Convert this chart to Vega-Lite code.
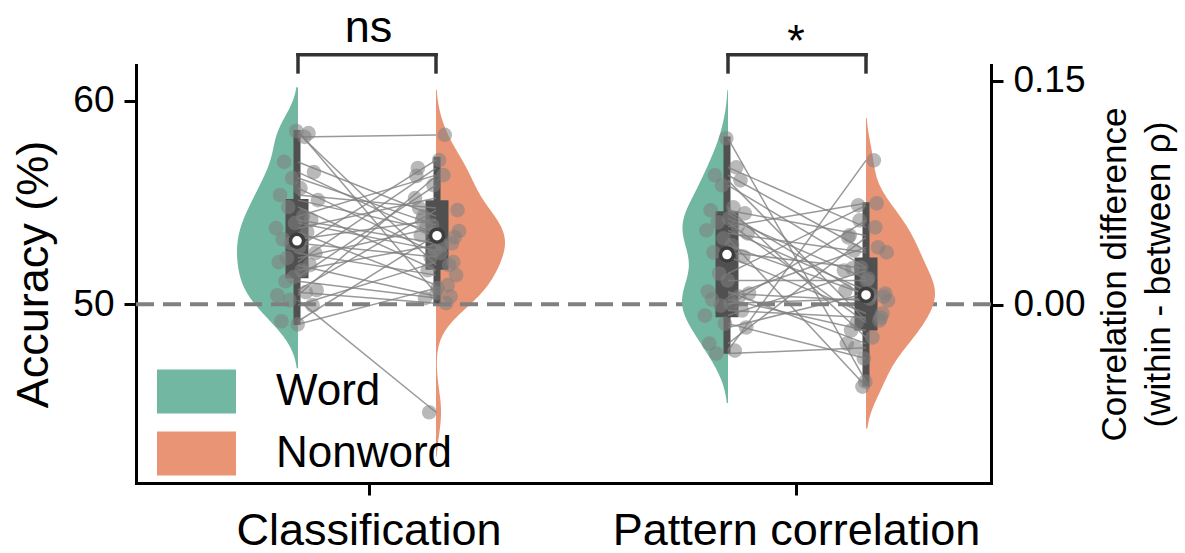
{
  "$schema": "https://vega.github.io/schema/vega-lite/v6.json",
  "width": 855,
  "height": 418,
  "autosize": {"type": "none"},
  "padding": {"left": 136, "top": 65, "right": 194, "bottom": 70},
  "config": {"view": {"stroke": null}, "font": "Liberation Sans"},
  "datasets": {
    "pts": [
      {"cond":"Classification","group":"Word","subj":"s17","val":49.01},{"cond":"Classification","group":"Nonword","subj":"s17","val":50.79},
      {"cond":"Classification","group":"Word","subj":"s05","val":49.16},{"cond":"Classification","group":"Nonword","subj":"s05","val":53.40},
      {"cond":"Classification","group":"Word","subj":"s28","val":49.95},{"cond":"Classification","group":"Nonword","subj":"s28","val":52.07},
      {"cond":"Classification","group":"Word","subj":"s11","val":50.20},{"cond":"Classification","group":"Nonword","subj":"s11","val":44.68},
      {"cond":"Classification","group":"Word","subj":"s02","val":50.44},{"cond":"Classification","group":"Nonword","subj":"s02","val":56.31},
      {"cond":"Classification","group":"Word","subj":"s23","val":50.59},{"cond":"Classification","group":"Nonword","subj":"s23","val":50.05},
      {"cond":"Classification","group":"Word","subj":"s31","val":50.69},{"cond":"Classification","group":"Nonword","subj":"s31","val":54.63},
      {"cond":"Classification","group":"Word","subj":"s08","val":51.13},{"cond":"Classification","group":"Nonword","subj":"s08","val":50.30},
      {"cond":"Classification","group":"Word","subj":"s14","val":51.33},{"cond":"Classification","group":"Nonword","subj":"s14","val":55.86},
      {"cond":"Classification","group":"Word","subj":"s20","val":51.67},{"cond":"Classification","group":"Nonword","subj":"s20","val":52.91},
      {"cond":"Classification","group":"Word","subj":"s26","val":51.92},{"cond":"Classification","group":"Nonword","subj":"s26","val":50.39},
      {"cond":"Classification","group":"Word","subj":"s03","val":52.07},{"cond":"Classification","group":"Nonword","subj":"s03","val":56.70},
      {"cond":"Classification","group":"Word","subj":"s09","val":52.27},{"cond":"Classification","group":"Nonword","subj":"s09","val":53.79},
      {"cond":"Classification","group":"Word","subj":"s30","val":52.51},{"cond":"Classification","group":"Nonword","subj":"s30","val":51.43},
      {"cond":"Classification","group":"Word","subj":"s18","val":52.81},{"cond":"Classification","group":"Nonword","subj":"s18","val":57.09},
      {"cond":"Classification","group":"Word","subj":"s12","val":53.00},{"cond":"Classification","group":"Nonword","subj":"s12","val":52.32},
      {"cond":"Classification","group":"Word","subj":"s06","val":53.20},{"cond":"Classification","group":"Nonword","subj":"s06","val":54.14},
      {"cond":"Classification","group":"Word","subj":"s24","val":53.55},{"cond":"Classification","group":"Nonword","subj":"s24","val":50.94},
      {"cond":"Classification","group":"Word","subj":"s01","val":53.74},{"cond":"Classification","group":"Nonword","subj":"s01","val":55.22},
      {"cond":"Classification","group":"Word","subj":"s15","val":53.99},{"cond":"Classification","group":"Nonword","subj":"s15","val":52.66},
      {"cond":"Classification","group":"Word","subj":"s27","val":54.14},{"cond":"Classification","group":"Nonword","subj":"s27","val":53.00},
      {"cond":"Classification","group":"Word","subj":"s21","val":54.33},{"cond":"Classification","group":"Nonword","subj":"s21","val":56.35},
      {"cond":"Classification","group":"Word","subj":"s10","val":54.78},{"cond":"Classification","group":"Nonword","subj":"s10","val":51.67},
      {"cond":"Classification","group":"Word","subj":"s32","val":55.12},{"cond":"Classification","group":"Nonword","subj":"s32","val":53.60},
      {"cond":"Classification","group":"Word","subj":"s04","val":55.37},{"cond":"Classification","group":"Nonword","subj":"s04","val":54.73},
      {"cond":"Classification","group":"Word","subj":"s19","val":55.71},{"cond":"Classification","group":"Nonword","subj":"s19","val":52.51},
      {"cond":"Classification","group":"Word","subj":"s13","val":56.21},{"cond":"Classification","group":"Nonword","subj":"s13","val":53.89},
      {"cond":"Classification","group":"Word","subj":"s29","val":56.50},{"cond":"Classification","group":"Nonword","subj":"s29","val":53.30},
      {"cond":"Classification","group":"Word","subj":"s07","val":57.00},{"cond":"Classification","group":"Nonword","subj":"s07","val":54.33},
      {"cond":"Classification","group":"Word","subj":"s22","val":58.23},{"cond":"Classification","group":"Nonword","subj":"s22","val":58.33},
      {"cond":"Classification","group":"Word","subj":"s25","val":58.42},{"cond":"Classification","group":"Nonword","subj":"s25","val":51.92},
      {"cond":"Classification","group":"Word","subj":"s16","val":58.52},{"cond":"Classification","group":"Nonword","subj":"s16","val":50.54},
      {"cond":"Pattern correlation","group":"Word","subj":"p09","val":-0.0329},{"cond":"Pattern correlation","group":"Nonword","subj":"p09","val":-0.0289},
      {"cond":"Pattern correlation","group":"Word","subj":"p22","val":-0.0309},{"cond":"Pattern correlation","group":"Nonword","subj":"p22","val":0.0966},
      {"cond":"Pattern correlation","group":"Word","subj":"p04","val":-0.0262},{"cond":"Pattern correlation","group":"Nonword","subj":"p04","val":0.0450},
      {"cond":"Pattern correlation","group":"Word","subj":"p30","val":-0.0154},{"cond":"Pattern correlation","group":"Nonword","subj":"p30","val":0.0074},
      {"cond":"Pattern correlation","group":"Word","subj":"p15","val":-0.0128},{"cond":"Pattern correlation","group":"Nonword","subj":"p15","val":-0.0362},
      {"cond":"Pattern correlation","group":"Word","subj":"p01","val":-0.0074},{"cond":"Pattern correlation","group":"Nonword","subj":"p01","val":0.0228},
      {"cond":"Pattern correlation","group":"Word","subj":"p27","val":-0.0040},{"cond":"Pattern correlation","group":"Nonword","subj":"p27","val":-0.0087},
      {"cond":"Pattern correlation","group":"Word","subj":"p12","val":-0.0007},{"cond":"Pattern correlation","group":"Nonword","subj":"p12","val":0.0564},
      {"cond":"Pattern correlation","group":"Word","subj":"p19","val":0.0007},{"cond":"Pattern correlation","group":"Nonword","subj":"p19","val":0.0040},
      {"cond":"Pattern correlation","group":"Word","subj":"p06","val":0.0034},{"cond":"Pattern correlation","group":"Nonword","subj":"p06","val":-0.0174},
      {"cond":"Pattern correlation","group":"Word","subj":"p25","val":0.0054},{"cond":"Pattern correlation","group":"Nonword","subj":"p25","val":0.0383},
      {"cond":"Pattern correlation","group":"Word","subj":"p32","val":0.0074},{"cond":"Pattern correlation","group":"Nonword","subj":"p32","val":0.0027},
      {"cond":"Pattern correlation","group":"Word","subj":"p03","val":0.0087},{"cond":"Pattern correlation","group":"Nonword","subj":"p03","val":-0.0262},
      {"cond":"Pattern correlation","group":"Word","subj":"p17","val":0.0161},{"cond":"Pattern correlation","group":"Nonword","subj":"p17","val":0.0161},
      {"cond":"Pattern correlation","group":"Word","subj":"p11","val":0.0208},{"cond":"Pattern correlation","group":"Nonword","subj":"p11","val":0.0664},
      {"cond":"Pattern correlation","group":"Word","subj":"p28","val":0.0322},{"cond":"Pattern correlation","group":"Nonword","subj":"p28","val":-0.0060},
      {"cond":"Pattern correlation","group":"Word","subj":"p07","val":0.0349},{"cond":"Pattern correlation","group":"Nonword","subj":"p07","val":0.0242},
      {"cond":"Pattern correlation","group":"Word","subj":"p20","val":0.0396},{"cond":"Pattern correlation","group":"Nonword","subj":"p20","val":0.0067},
      {"cond":"Pattern correlation","group":"Word","subj":"p14","val":0.0443},{"cond":"Pattern correlation","group":"Nonword","subj":"p14","val":-0.0550},
      {"cond":"Pattern correlation","group":"Word","subj":"p31","val":0.0477},{"cond":"Pattern correlation","group":"Nonword","subj":"p31","val":0.0349},
      {"cond":"Pattern correlation","group":"Word","subj":"p02","val":0.0497},{"cond":"Pattern correlation","group":"Nonword","subj":"p02","val":0.0094},
      {"cond":"Pattern correlation","group":"Word","subj":"p24","val":0.0523},{"cond":"Pattern correlation","group":"Nonword","subj":"p24","val":0.0678},
      {"cond":"Pattern correlation","group":"Word","subj":"p10","val":0.0550},{"cond":"Pattern correlation","group":"Nonword","subj":"p10","val":-0.0121},
      {"cond":"Pattern correlation","group":"Word","subj":"p18","val":0.0577},{"cond":"Pattern correlation","group":"Nonword","subj":"p18","val":0.0174},
      {"cond":"Pattern correlation","group":"Word","subj":"p29","val":0.0611},{"cond":"Pattern correlation","group":"Nonword","subj":"p29","val":0.0054},
      {"cond":"Pattern correlation","group":"Word","subj":"p05","val":0.0631},{"cond":"Pattern correlation","group":"Nonword","subj":"p05","val":0.0463},
      {"cond":"Pattern correlation","group":"Word","subj":"p21","val":0.0651},{"cond":"Pattern correlation","group":"Nonword","subj":"p21","val":-0.0221},
      {"cond":"Pattern correlation","group":"Word","subj":"p13","val":0.0799},{"cond":"Pattern correlation","group":"Nonword","subj":"p13","val":0.0248},
      {"cond":"Pattern correlation","group":"Word","subj":"p26","val":0.0832},{"cond":"Pattern correlation","group":"Nonword","subj":"p26","val":-0.0107},
      {"cond":"Pattern correlation","group":"Word","subj":"p08","val":0.0866},{"cond":"Pattern correlation","group":"Nonword","subj":"p08","val":0.0362},
      {"cond":"Pattern correlation","group":"Word","subj":"p23","val":0.0919},{"cond":"Pattern correlation","group":"Nonword","subj":"p23","val":0.0517},
      {"cond":"Pattern correlation","group":"Word","subj":"p16","val":0.1114},{"cond":"Pattern correlation","group":"Nonword","subj":"p16","val":-0.0517}
    ],
    "box": [
      {"cond":"Classification","group":"Word","lo":48.97,"q1":51.28,"med":53.12,"q3":55.17,"hi":58.57},
      {"cond":"Classification","group":"Nonword","lo":50.03,"q1":51.70,"med":53.37,"q3":55.12,"hi":57.26},
      {"cond":"Pattern correlation","group":"Word","lo":-0.0330,"q1":-0.0085,"med":0.0335,"q3":0.0625,"hi":0.1126},
      {"cond":"Pattern correlation","group":"Nonword","lo":-0.0550,"q1":-0.0174,"med":0.0064,"q3":0.0315,"hi":0.0686}
    ]
  },
  "layer": [
    {
      "data": {"name": "pts"},
      "transform": [
        {"filter": "datum.cond === 'Classification' && datum.group === 'Word'"},
        {"density": "val", "groupby": ["group"], "bandwidth": 1.05, "extent": [46.85, 60.68], "steps": 200}
      ],
      "mark": {"type": "area", "orient": "horizontal", "opacity": 1},
      "encoding": {
        "y": {"field": "value", "type": "quantitative", "scale": {"domain": [41.2, 61.77], "nice": false, "zero": false}, "axis": null},
        "x": {"field": "density", "type": "quantitative", "stack": null, "scale": {"range": [162, 101], "zero": true, "nice": false}, "axis": null},
        "color": {"field": "group", "type": "nominal", "title": null, "scale": {"domain": ["Word", "Nonword"], "range": ["#71b7a1", "#e99575"]},
          "legend": {"orient": "none", "legendX": 21, "legendY": 287, "symbolType": "M-1,-0.557L1,-0.557L1,0.557L-1,0.557Z", "symbolSize": 6241, "labelFontSize": 44, "labelLimit": 0, "labelOffset": 40, "rowPadding": -3, "symbolStrokeWidth": 0, "symbolOpacity": 1, "labelColor": "black", "padding": 0}}
      }
    },
    {
      "data": {"name": "pts"},
      "transform": [
        {"filter": "datum.cond === 'Classification' && datum.group === 'Nonword'"},
        {"density": "val", "groupby": ["group"], "bandwidth": 1.12, "extent": [42.5, 60.55], "steps": 200}
      ],
      "mark": {"type": "area", "orient": "horizontal", "opacity": 1},
      "encoding": {
        "y": {"field": "value", "type": "quantitative", "scale": {"domain": [41.2, 61.77], "nice": false, "zero": false}, "axis": null},
        "x": {"field": "density", "type": "quantitative", "stack": null, "scale": {"range": [300, 369], "zero": true, "nice": false}, "axis": null},
        "color": {"field": "group", "type": "nominal", "title": null, "scale": {"domain": ["Word", "Nonword"], "range": ["#71b7a1", "#e99575"]},
          "legend": {"orient": "none", "legendX": 21, "legendY": 287, "symbolType": "M-1,-0.557L1,-0.557L1,0.557L-1,0.557Z", "symbolSize": 6241, "labelFontSize": 44, "labelLimit": 0, "labelOffset": 40, "rowPadding": -3, "symbolStrokeWidth": 0, "symbolOpacity": 1, "labelColor": "black", "padding": 0}}
      }
    },
    {
      "data": {"values": [{}]},
      "mark": {"type": "rule", "color": "#808080", "strokeWidth": 4, "strokeDash": [18, 9]},
      "encoding": {
        "x": {"datum": -0.5439, "type": "quantitative", "scale": {"domain": [-0.5439, 1.4561], "nice": false, "zero": false},
          "axis": {"values": [0, 1], "labelExpr": "datum.value == 0 ? 'Classification' : 'Pattern correlation'", "title": null, "grid": false, "labelFontSize": 45, "labelLimit": 0, "labelOverlap": false, "labelColor": "black", "labelPadding": 13, "labelFlush": false, "tickSize": 12, "tickWidth": 3, "tickColor": "black", "domainWidth": 3, "domainColor": "black", "domainCap": "square"}},
        "x2": {"datum": 1.4561},
        "y": {"datum": 50, "type": "quantitative", "scale": {"domain": [41.2, 61.77], "nice": false, "zero": false},
          "axis": {"orient": "left", "values": [50, 60], "title": "Accuracy (%)", "titleFontSize": 45, "titleFontWeight": "normal", "titleColor": "black", "titlePadding": 16, "grid": false, "labelFontSize": 37, "labelColor": "black", "labelPadding": 10, "tickSize": 12, "tickWidth": 3, "tickColor": "black", "domainWidth": 3, "domainColor": "black", "domainCap": "square"}}
      }
    },
    {
      "data": {"name": "pts"},
      "transform": [
        {"filter": "datum.cond === 'Pattern correlation' && datum.group === 'Word'"},
        {"density": "val", "groupby": ["group"], "bandwidth": 0.0163, "extent": [-0.066, 0.1437], "steps": 200}
      ],
      "mark": {"type": "area", "orient": "horizontal", "opacity": 1},
      "encoding": {
        "y": {"field": "value", "type": "quantitative", "scale": {"domain": [-0.1196, 0.1605], "nice": false, "zero": false}, "axis": null},
        "x": {"field": "density", "type": "quantitative", "stack": null, "scale": {"range": [592, 546], "zero": true, "nice": false}, "axis": null},
        "color": {"field": "group", "type": "nominal", "title": null, "scale": {"domain": ["Word", "Nonword"], "range": ["#71b7a1", "#e99575"]},
          "legend": {"orient": "none", "legendX": 21, "legendY": 287, "symbolType": "M-1,-0.557L1,-0.557L1,0.557L-1,0.557Z", "symbolSize": 6241, "labelFontSize": 44, "labelLimit": 0, "labelOffset": 40, "rowPadding": -3, "symbolStrokeWidth": 0, "symbolOpacity": 1, "labelColor": "black", "padding": 0}}
      }
    },
    {
      "data": {"name": "pts"},
      "transform": [
        {"filter": "datum.cond === 'Pattern correlation' && datum.group === 'Nonword'"},
        {"density": "val", "groupby": ["group"], "bandwidth": 0.0142, "extent": [-0.083, 0.1250], "steps": 200}
      ],
      "mark": {"type": "area", "orient": "horizontal", "opacity": 1},
      "encoding": {
        "y": {"field": "value", "type": "quantitative", "scale": {"domain": [-0.1196, 0.1605], "nice": false, "zero": false}, "axis": null},
        "x": {"field": "density", "type": "quantitative", "stack": null, "scale": {"range": [730, 799], "zero": true, "nice": false}, "axis": null},
        "color": {"field": "group", "type": "nominal", "title": null, "scale": {"domain": ["Word", "Nonword"], "range": ["#71b7a1", "#e99575"]},
          "legend": {"orient": "none", "legendX": 21, "legendY": 287, "symbolType": "M-1,-0.557L1,-0.557L1,0.557L-1,0.557Z", "symbolSize": 6241, "labelFontSize": 44, "labelLimit": 0, "labelOffset": 40, "rowPadding": -3, "symbolStrokeWidth": 0, "symbolOpacity": 1, "labelColor": "black", "padding": 0}}
      }
    },
    {
      "data": {"name": "box"},
      "transform": [{"filter": "datum.cond === 'Classification'"}],
      "mark": {"type": "rule", "color": "#505050", "strokeWidth": 7},
      "encoding": {
        "x": {"field": "group", "type": "nominal", "scale": {"type": "point", "domain": ["Word", "Nonword"], "range": [161, 301], "padding": 0}, "axis": null},
        "y": {"field": "lo", "type": "quantitative", "scale": {"domain": [41.2, 61.77], "nice": false, "zero": false}, "axis": null},
        "y2": {"field": "hi"}
      }
    },
    {
      "data": {"name": "box"},
      "transform": [{"filter": "datum.cond === 'Classification'"}],
      "mark": {"type": "bar", "color": "#505050", "size": 23},
      "encoding": {
        "x": {"field": "group", "type": "nominal", "scale": {"type": "point", "domain": ["Word", "Nonword"], "range": [161, 301], "padding": 0}, "axis": null},
        "y": {"field": "q1", "type": "quantitative", "scale": {"domain": [41.2, 61.77], "nice": false, "zero": false}, "axis": null},
        "y2": {"field": "q3"}
      }
    },
    {
      "data": {"name": "box"},
      "transform": [{"filter": "datum.cond === 'Pattern correlation'"}],
      "mark": {"type": "rule", "color": "#505050", "strokeWidth": 7},
      "encoding": {
        "x": {"field": "group", "type": "nominal", "scale": {"type": "point", "domain": ["Word", "Nonword"], "range": [591, 730], "padding": 0}, "axis": null},
        "y": {"field": "lo", "type": "quantitative", "scale": {"domain": [-0.1196, 0.1605], "nice": false, "zero": false}, "axis": null},
        "y2": {"field": "hi"}
      }
    },
    {
      "data": {"name": "box"},
      "transform": [{"filter": "datum.cond === 'Pattern correlation'"}],
      "mark": {"type": "bar", "color": "#505050", "size": 23},
      "encoding": {
        "x": {"field": "group", "type": "nominal", "scale": {"type": "point", "domain": ["Word", "Nonword"], "range": [591, 730], "padding": 0}, "axis": null},
        "y": {"field": "q1", "type": "quantitative", "scale": {"domain": [-0.1196, 0.1605], "nice": false, "zero": false}, "axis": null},
        "y2": {"field": "q3"}
      }
    },
    {
      "data": {"name": "pts"},
      "transform": [{"filter": "datum.cond === 'Classification' && datum.group === 'Word'"}],
      "mark": {"type": "circle", "color": "#808080", "opacity": 0.55, "size": 215},
      "encoding": {
        "x": {"field": "subj", "type": "nominal", "scale": {"type": "point", "range": [140, 182], "padding": 0}, "axis": null},
        "y": {"field": "val", "type": "quantitative", "scale": {"domain": [41.2, 61.77], "nice": false, "zero": false}, "axis": null}
      }
    },
    {
      "data": {"name": "pts"},
      "transform": [{"filter": "datum.cond === 'Classification' && datum.group === 'Nonword'"}],
      "mark": {"type": "circle", "color": "#808080", "opacity": 0.55, "size": 215},
      "encoding": {
        "x": {"field": "subj", "type": "nominal", "scale": {"type": "point", "range": [279, 323], "padding": 0}, "axis": null},
        "y": {"field": "val", "type": "quantitative", "scale": {"domain": [41.2, 61.77], "nice": false, "zero": false}, "axis": null}
      }
    },
    {
      "data": {"name": "pts"},
      "transform": [{"filter": "datum.cond === 'Pattern correlation' && datum.group === 'Word'"}],
      "mark": {"type": "circle", "color": "#808080", "opacity": 0.55, "size": 215},
      "encoding": {
        "x": {"field": "subj", "type": "nominal", "scale": {"type": "point", "range": [569, 613], "padding": 0}, "axis": null},
        "y": {"field": "val", "type": "quantitative", "scale": {"domain": [-0.1196, 0.1605], "nice": false, "zero": false},
          "axis": {"orient": "right", "values": [0, 0.15], "format": ".2f", "title": ["Correlation difference", "(within - between ρ)"], "titleAngle": 270, "titleFontSize": 35, "titleLineHeight": 44, "titleFontWeight": "normal", "titleColor": "black", "titlePadding": 3, "grid": false, "labelFontSize": 37, "labelColor": "black", "labelPadding": 10, "tickSize": 12, "tickWidth": 3, "tickColor": "black", "domainWidth": 3, "domainColor": "black", "domainCap": "square"}}
      }
    },
    {
      "data": {"name": "pts"},
      "transform": [{"filter": "datum.cond === 'Pattern correlation' && datum.group === 'Nonword'"}],
      "mark": {"type": "circle", "color": "#808080", "opacity": 0.55, "size": 215},
      "encoding": {
        "x": {"field": "subj", "type": "nominal", "scale": {"type": "point", "range": [708, 752], "padding": 0}, "axis": null},
        "y": {"field": "val", "type": "quantitative", "scale": {"domain": [-0.1196, 0.1605], "nice": false, "zero": false}, "axis": null}
      }
    },
    {
      "data": {"name": "pts"},
      "transform": [{"filter": "datum.cond === 'Classification'"}],
      "mark": {"type": "line", "color": "#7f7f7f", "opacity": 0.8, "strokeWidth": 1.5},
      "encoding": {
        "x": {"field": "group", "type": "nominal", "scale": {"type": "point", "domain": ["Word", "Nonword"], "range": [162, 300], "padding": 0}, "axis": null},
        "y": {"field": "val", "type": "quantitative", "scale": {"domain": [41.2, 61.77], "nice": false, "zero": false}, "axis": null},
        "detail": {"field": "subj", "type": "nominal"}
      }
    },
    {
      "data": {"name": "pts"},
      "transform": [{"filter": "datum.cond === 'Pattern correlation'"}],
      "mark": {"type": "line", "color": "#7f7f7f", "opacity": 0.8, "strokeWidth": 1.5},
      "encoding": {
        "x": {"field": "group", "type": "nominal", "scale": {"type": "point", "domain": ["Word", "Nonword"], "range": [592, 730], "padding": 0}, "axis": null},
        "y": {"field": "val", "type": "quantitative", "scale": {"domain": [-0.1196, 0.1605], "nice": false, "zero": false}, "axis": null},
        "detail": {"field": "subj", "type": "nominal"}
      }
    },
    {
      "data": {"name": "box"},
      "transform": [{"filter": "datum.cond === 'Classification'"}],
      "mark": {"type": "point", "filled": true, "fill": "white", "stroke": "#3d3d3d", "strokeWidth": 3.5, "size": 170, "opacity": 1},
      "encoding": {
        "x": {"field": "group", "type": "nominal", "scale": {"type": "point", "domain": ["Word", "Nonword"], "range": [161, 301], "padding": 0}, "axis": null},
        "y": {"field": "med", "type": "quantitative", "scale": {"domain": [41.2, 61.77], "nice": false, "zero": false}, "axis": null}
      }
    },
    {
      "data": {"name": "box"},
      "transform": [{"filter": "datum.cond === 'Pattern correlation'"}],
      "mark": {"type": "point", "filled": true, "fill": "white", "stroke": "#3d3d3d", "strokeWidth": 3.5, "size": 170, "opacity": 1},
      "encoding": {
        "x": {"field": "group", "type": "nominal", "scale": {"type": "point", "domain": ["Word", "Nonword"], "range": [591, 730], "padding": 0}, "axis": null},
        "y": {"field": "med", "type": "quantitative", "scale": {"domain": [-0.1196, 0.1605], "nice": false, "zero": false}, "axis": null}
      }
    },
    {
      "data": {"values": [{}]},
      "mark": {"type": "rule", "color": "#333333", "strokeWidth": 3.5, "strokeCap": "square", "clip": false},
      "encoding": {
        "x": {"datum": "Word", "type": "nominal", "scale": {"type": "point", "domain": ["Word", "Nonword"], "range": [162, 300], "padding": 0}, "axis": null},
        "x2": {"datum": "Nonword"},
        "y": {"datum": 62.27, "type": "quantitative", "scale": {"domain": [41.2, 61.77], "nice": false, "zero": false}, "axis": null}
      }
    },
    {
      "data": {"name": "box"},
      "transform": [{"filter": "datum.cond === 'Classification'"}],
      "mark": {"type": "rule", "color": "#333333", "strokeWidth": 3.5, "strokeCap": "square", "clip": false},
      "encoding": {
        "x": {"field": "group", "type": "nominal", "scale": {"type": "point", "domain": ["Word", "Nonword"], "range": [162, 300], "padding": 0}, "axis": null},
        "y": {"datum": 61.43, "type": "quantitative", "scale": {"domain": [41.2, 61.77], "nice": false, "zero": false}, "axis": null},
        "y2": {"datum": 62.27}
      }
    },
    {
      "data": {"values": [{}]},
      "mark": {"type": "rule", "color": "#333333", "strokeWidth": 3.5, "strokeCap": "square", "clip": false},
      "encoding": {
        "x": {"datum": "Word", "type": "nominal", "scale": {"type": "point", "domain": ["Word", "Nonword"], "range": [592, 730], "padding": 0}, "axis": null},
        "x2": {"datum": "Nonword"},
        "y": {"datum": 62.27, "type": "quantitative", "scale": {"domain": [41.2, 61.77], "nice": false, "zero": false}, "axis": null}
      }
    },
    {
      "data": {"name": "box"},
      "transform": [{"filter": "datum.cond === 'Pattern correlation'"}],
      "mark": {"type": "rule", "color": "#333333", "strokeWidth": 3.5, "strokeCap": "square", "clip": false},
      "encoding": {
        "x": {"field": "group", "type": "nominal", "scale": {"type": "point", "domain": ["Word", "Nonword"], "range": [592, 730], "padding": 0}, "axis": null},
        "y": {"datum": 61.43, "type": "quantitative", "scale": {"domain": [41.2, 61.77], "nice": false, "zero": false}, "axis": null},
        "y2": {"datum": 62.27}
      }
    },
    {
      "data": {"values": [{}]},
      "mark": {"type": "text", "text": "ns", "fontSize": 45, "align": "center", "baseline": "alphabetic", "color": "black", "clip": false},
      "encoding": {
        "x": {"datum": 0, "type": "quantitative", "scale": {"domain": [-0.5439, 1.4561], "nice": false, "zero": false}, "axis": null},
        "y": {"datum": 62.92, "type": "quantitative", "scale": {"domain": [41.2, 61.77], "nice": false, "zero": false}, "axis": null}
      }
    },
    {
      "data": {"values": [{}]},
      "mark": {"type": "text", "text": "*", "fontSize": 45, "align": "center", "baseline": "alphabetic", "color": "black", "clip": false},
      "encoding": {
        "x": {"datum": 1, "type": "quantitative", "scale": {"domain": [-0.5439, 1.4561], "nice": false, "zero": false}, "axis": null},
        "y": {"datum": 62.22, "type": "quantitative", "scale": {"domain": [41.2, 61.77], "nice": false, "zero": false}, "axis": null}
      }
    }
  ],
  "resolve": {"scale": {"x": "independent", "y": "independent"}}
}
